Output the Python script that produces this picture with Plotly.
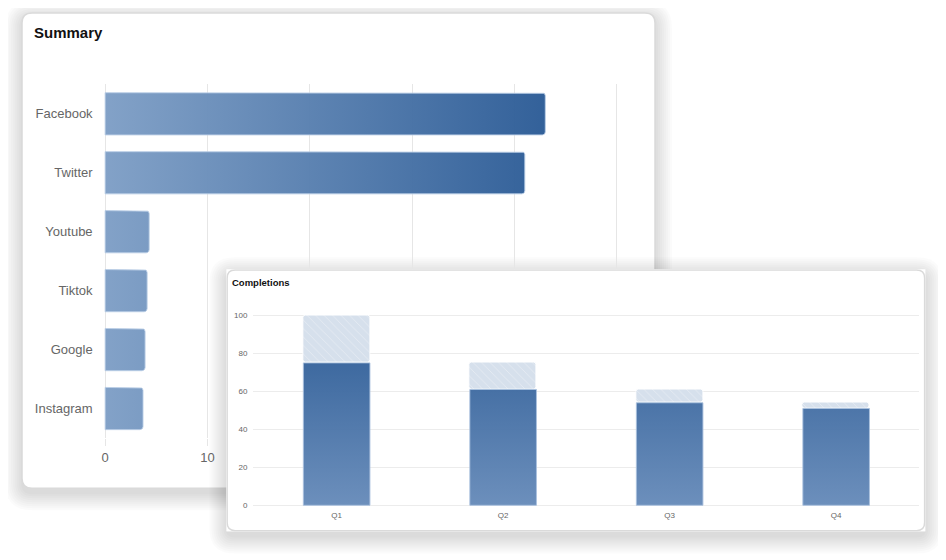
import math
import plotly.graph_objects as go

# =============================================================================
# Data
# =============================================================================
platforms = ["Facebook", "Twitter", "Youtube", "Tiktok", "Google", "Instagram"]
platform_values = [43, 41, 4.3, 4.1, 3.9, 3.7]
summary_ticks = [0, 10, 20, 30, 40, 50]

quarters = ["Q1", "Q2", "Q3", "Q4"]
completed = [75, 61, 54, 51]
target = [100, 75, 61, 54]
completion_ticks = [0, 20, 40, 60, 80, 100]

# =============================================================================
# Page geometry. Positions are given in screenshot pixels and mapped onto the
# figure (the page adds an offset and the capture is slightly scaled down).
# =============================================================================
FW, FH = 946, 560
SHIFT, SCALE = 10, 0.99
FONT = "Liberation Sans, Arial, sans-serif"


def X(p):
    return (p - SHIFT) / SCALE / FW


def Y(p):
    return 1 - (p - SHIFT) / SCALE / FH


def rounded_path(x0, y0, x1, y1, r, fx, fy):
    # rounded rectangle in pixel space, mapped through fx / fy
    pts = [
        f"M{fx(x0 + r)},{fy(y0)}", f"L{fx(x1 - r)},{fy(y0)}",
        f"Q{fx(x1)},{fy(y0)} {fx(x1)},{fy(y0 + r)}", f"L{fx(x1)},{fy(y1 - r)}",
        f"Q{fx(x1)},{fy(y1)} {fx(x1 - r)},{fy(y1)}", f"L{fx(x0 + r)},{fy(y1)}",
        f"Q{fx(x0)},{fy(y1)} {fx(x0)},{fy(y1 - r)}", f"L{fx(x0)},{fy(y0 + r)}",
        f"Q{fx(x0)},{fy(y0)} {fx(x0 + r)},{fy(y0)}", "Z",
    ]
    return " ".join(pts)


def card_shadow(x0, y0, x1, y1, r):
    out = []
    for k in range(9):
        e = 1 + 2 * k
        out.append(dict(
            type="path", xref="paper", yref="paper", layer="below",
            path=rounded_path(x0 - e, y0 - e + 5, x1 + e, y1 + e + 5, r + e, X, Y),
            fillcolor="rgba(0,0,0,0.016)", line=dict(width=0),
        ))
    return out


CARD1 = (22, 14, 654, 487)
CARD2 = (226, 269, 924, 530)

# summary plot area
S_LEFT, S_RIGHT, S_TOP, S_BOTTOM = 105, 616, 85, 437
S_PAD = 0.15
s_ppu = (S_RIGHT - S_LEFT) / 50
s_ppc = (S_BOTTOM - S_TOP) / len(platforms)

# completions plot area
C_LEFT, C_RIGHT, C_TOP, C_BOTTOM = 253, 918, 315, 504
C_PAD = 1.5
c_ppu = (C_BOTTOM - C_TOP) / 100

# =============================================================================
# Summary bars: filled outlines so that they can carry a horizontal gradient
# =============================================================================
half = 21 / s_ppc
rx, ry = 3 / s_ppu, 3 / s_ppc
bx, by = [], []
for i, v in enumerate(platform_values):
    y0, y1 = i - half, i + half
    bx += [0, v - rx]
    by += [y0, y0]
    for a in range(1, 6):
        t = math.radians(-90 + 18 * a)
        bx.append(v - rx + rx * math.cos(t))
        by.append(y0 + ry + ry * math.sin(t))
    for a in range(0, 6):
        t = math.radians(18 * a)
        bx.append(v - rx + rx * math.cos(t))
        by.append(y1 - ry + ry * math.sin(t))
    bx += [0, 0, None]
    by += [y1, y0, None]

fig = go.Figure()

fig.add_trace(go.Scatter(
    x=bx, y=by, mode="lines", fill="toself",
    line=dict(color="rgba(185,205,230,0.9)", width=1),
    fillgradient=dict(
        type="horizontal", start=0, stop=44,
        colorscale=[[0, "rgba(127,159,198,0.97)"], [1, "rgba(42,90,149,0.97)"]],
    ),
    hoverinfo="skip", showlegend=False, xaxis="x", yaxis="y",
))

# empty trace so that the card of the second chart gets its own subplot
fig.add_trace(go.Scatter(x=[], y=[], xaxis="x2", yaxis="y2", showlegend=False))

# =============================================================================
# Completions bars
# =============================================================================
bar_w = 0.4
fig.add_trace(go.Bar(
    x=list(range(len(quarters))),
    y=[t - c for t, c in zip(target, completed)],
    base=completed, width=bar_w,
    marker=dict(
        color="#d6e0ec", cornerradius=3,
        line=dict(color="rgba(255,255,255,0.9)", width=1),
        pattern=dict(shape="\\", bgcolor="#d6e0ec", fgcolor="#ffffff",
                     fgopacity=0.35, size=6, solidity=0.15, fillmode="replace"),
    ),
    hoverinfo="skip", showlegend=False, xaxis="x3", yaxis="y3",
))

dx, dy = [], []
for i, v in enumerate(completed):
    dx += [i - bar_w / 2, i + bar_w / 2, i + bar_w / 2, i - bar_w / 2, i - bar_w / 2, None]
    dy += [0, 0, v, v, 0, None]
fig.add_trace(go.Scatter(
    x=dx, y=dy, mode="lines", fill="toself",
    line=dict(color="rgba(170,193,222,0.9)", width=1),
    fillgradient=dict(
        type="vertical", start=0, stop=100,
        colorscale=[[0, "rgba(104,140,186,0.97)"], [1, "rgba(40,88,147,0.97)"]],
    ),
    hoverinfo="skip", showlegend=False, xaxis="x3", yaxis="y3",
))

# =============================================================================
# Cards
# =============================================================================
shapes = []
shapes += card_shadow(*CARD1, 10)
shapes.append(dict(
    type="path", xref="paper", yref="paper", layer="below",
    path=rounded_path(*CARD1, 10, X, Y),
    fillcolor="white", line=dict(color="#dadada", width=1.5),
))
shapes += card_shadow(*CARD2, 8)

# border of card 2, drawn inside its own subplot so it sits above chart 1
cx0, cy0, cx1, cy1 = CARD2


def fx2(p):
    return (p - cx0) / (cx1 - cx0)


def fy2(p):
    return (cy1 - p) / (cy1 - cy0)


shapes.append(dict(
    type="path", xref="x2", yref="y2", layer="below",
    path=rounded_path(cx0 + 0.8, cy0 + 0.8, cx1 - 0.8, cy1 - 0.8, 8, fx2, fy2),
    fillcolor="white", line=dict(color="#dadada", width=1.5),
))

grid = "#e6e6e6"
fig.update_layout(
    width=FW, height=FH,
    margin=dict(l=0, r=0, t=0, b=0),
    paper_bgcolor="white", plot_bgcolor="white",
    font=dict(family=FONT, color="#666666"),
    shapes=shapes,
    bargap=0,
    xaxis=dict(
        domain=[X(S_LEFT - S_PAD * s_ppu), X(S_RIGHT + S_PAD * s_ppu)],
        range=[-S_PAD, 50 + S_PAD], anchor="y",
        tickvals=summary_ticks, showgrid=True, gridcolor=grid, gridwidth=1,
        zeroline=False, ticks="outside", ticklen=7, tickcolor=grid,
        tickfont=dict(size=13, color="#666666"), fixedrange=True,
    ),
    yaxis=dict(
        domain=[Y(S_BOTTOM), Y(S_TOP)],
        range=[len(platforms) - 0.5, -0.5], anchor="x",
        tickvals=list(range(len(platforms))), ticktext=platforms,
        showgrid=False, zeroline=False, ticks="",
        ticklabelstandoff=10,
        tickfont=dict(size=13, color="#666666"), fixedrange=True,
    ),
    xaxis2=dict(
        domain=[X(cx0), X(cx1)], range=[0, 1], anchor="y2",
        showgrid=False, zeroline=False, showticklabels=False, showline=False,
        fixedrange=True,
    ),
    yaxis2=dict(
        domain=[Y(cy1), Y(cy0)], range=[0, 1], anchor="x2",
        showgrid=False, zeroline=False, showticklabels=False, showline=False,
        fixedrange=True,
    ),
    xaxis3=dict(
        domain=[X(C_LEFT), X(C_RIGHT)], range=[-0.5, len(quarters) - 0.5],
        anchor="y3", tickvals=list(range(len(quarters))), ticktext=quarters,
        showgrid=False, zeroline=False, ticks="", ticklabelstandoff=1,
        tickfont=dict(size=8, color="#666666"), fixedrange=True,
    ),
    yaxis3=dict(
        domain=[Y(C_BOTTOM + C_PAD * c_ppu), Y(C_TOP - C_PAD * c_ppu)],
        range=[-C_PAD, 100 + C_PAD], anchor="x3",
        tickvals=completion_ticks, showgrid=True, gridcolor="#ececec",
        zeroline=False, ticks="", ticklabelstandoff=5,
        tickfont=dict(size=8, color="#666666"), fixedrange=True,
    ),
    annotations=[
        dict(text="<b>Summary</b>", xref="paper", yref="paper",
             x=X(32), y=Y(33), xanchor="left", yanchor="middle",
             showarrow=False, font=dict(size=15, color="#111111", family=FONT)),
        dict(text="<b>Completions</b>", xref="paper", yref="paper",
             x=X(230), y=Y(282), xanchor="left", yanchor="middle",
             showarrow=False, font=dict(size=9.5, color="#111111", family=FONT)),
    ],
)

fig.write_html("out.html")
